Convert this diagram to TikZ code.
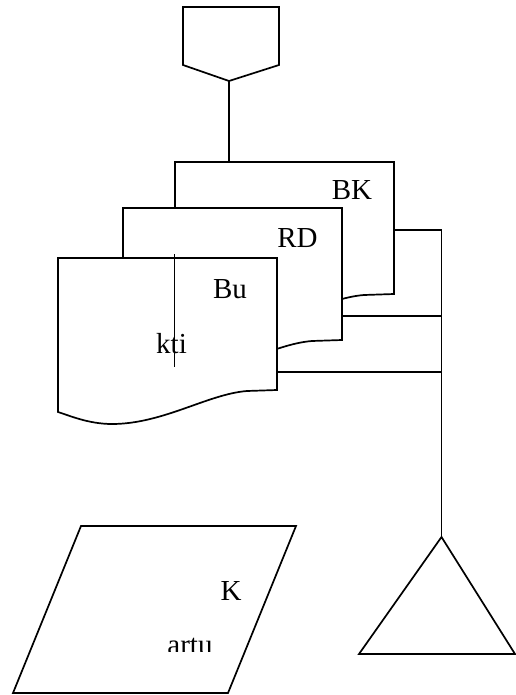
\documentclass[tikz,border=0pt]{standalone}
\usepackage{fontspec}
\setmainfont{Liberation Serif}
\usepackage{tikz}
\usetikzlibrary{calc}
\tikzset{
  outline/.style={line width=1.7pt,line join=miter},
  label/.style={anchor=base,inner sep=0pt,font=\fontsize{29}{31}\selectfont},
  docpage/.pic={
    % paper sheet with a wavy lower edge, corner (0,0) at top left
    \filldraw[outline,fill=white] (0,0) -- (219,0) -- (219,132) -- (189,133)
      .. controls (150,136) and (105,166) .. (54,166)
      .. controls (30,166) and (10,157) .. (0,154) -- cycle;
  },
}

\begin{document}
\begin{tikzpicture}[x=1pt,y=-1pt]
      \useasboundingbox (0,0) rectangle (515,695);
      % off-page connector on top
      \draw[outline] (183,7)--(279,7)--(279,65)--(229,81)--(183,65)--cycle;
      \coordinate (offtip) at (229,81);
      \coordinate (bktop) at (229,162);
      \draw[outline] (offtip)--(bktop);
      % stacked documents, back one first
      \pic (bk) at (175,162) {docpage};
      \pic (rd) at (123,208) {docpage};
      \pic (bu) at (58,258) {docpage};
      \draw[outline] (174.5,254)--(174.5,367);
      \node [label] (bklab) at (352,199) {BK};
      \node [label] (rdlab) at (297.5,247) {RD};
      \node [label] (bulab) at (230,298) {Bu};
      \node [label] (ktilab) at (171.5,353) {kti};
      % lines gathered to the right and down to the store
      \coordinate (bkout) at (393,230);
      \coordinate (rdout) at (341,316);
      \coordinate (buout) at (277,372);
      \coordinate (bus) at (441.5,230);
      \coordinate (apex) at (441.5,537);
      \draw[outline] (bkout)--(bus)--(apex);
      \draw[outline] (rdout)--(rdout -| bus);
      \draw[outline] (buout)--(buout -| bus);
      \draw[outline] (apex)--(515,654)--(359,654)--cycle;
      % card
      \draw[outline] (81,526)--(296,526)--(228,693)--(13,693)--cycle;
      \node [label] (klab) at (231,600) {K};
      \begin{scope}
        \clip (100,600) rectangle (250,651);
        \node [label] (artulab) at (190,654) {artu};
      \end{scope}
    \end{tikzpicture}
\end{document}
